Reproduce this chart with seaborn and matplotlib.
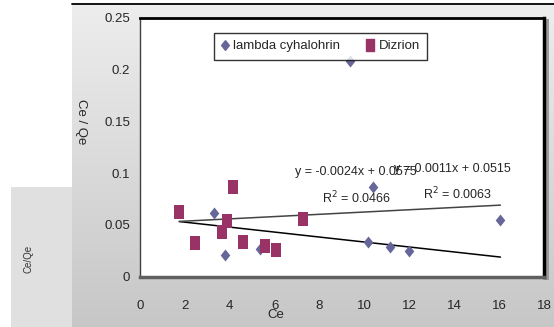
import numpy as np
import pandas as pd
import seaborn as sns
import matplotlib
matplotlib.use("Agg")
import matplotlib.pyplot as plt
from matplotlib.lines import Line2D
from matplotlib.patches import Rectangle

# Adsorption data: Ce vs Ce/Qe
lambda_ce = [3.30, 3.78, 5.35, 9.36, 10.18, 10.40, 11.16, 11.99, 16.06]
lambda_ceqe = [0.0613, 0.0210, 0.0265, 0.2086, 0.0333, 0.0865, 0.0290, 0.0252, 0.0548]
dizrion_ce = [1.75, 2.46, 3.67, 3.88, 4.16, 4.58, 5.56, 6.04, 7.25]
dizrion_ceqe = [0.0623, 0.0329, 0.0429, 0.0542, 0.0865, 0.0336, 0.0300, 0.0258, 0.0560]

# Linear trendlines (slope, intercept, R^2)
trend_down = (-0.0024, 0.0575, 0.0466)
trend_up = (0.0011, 0.0515, 0.0063)
trend_x = [1.75, 16.06]

x_ticks = [0, 2, 4, 6, 8, 10, 12, 14, 16, 18]
y_ticks = [0, 0.05, 0.1, 0.15, 0.2, 0.25]
y_ticklabels = ["0", "0.05", "0.1", "0.15", "0.2", "0.25"]

series_names = ["lambda cyhalohrin", "Dizrion"]
colors = {"lambda cyhalohrin": "#66669a", "Dizrion": "#993366"}

sns.set_style("white")
plt.rcParams["font.family"] = ["Liberation Sans Narrow", "Liberation Sans", "DejaVu Sans"]

W, H = 554, 327
fig = plt.figure(figsize=(W / 100, H / 100), dpi=100)
fig.patch.set_facecolor("white")

def fx(px):
    return px / W

def fy(py):
    return 1 - py / H

# gray gradient backdrop behind the chart
bg = fig.add_axes([fx(72), 0, 1 - fx(72), fy(5)], zorder=0)
grad = np.linspace(0.93, 0.78, 256).reshape(-1, 1)
bg.imshow(np.dstack([grad, grad, grad]), aspect="auto", extent=[0, 1, 0, 1])
bg.set_axis_off()

# lighter panel at the lower left
fig.patches.append(Rectangle((fx(11), 0), fx(72) - fx(11), fy(187), transform=fig.transFigure,
                             facecolor="#e0e0e0", edgecolor="none", zorder=1))
# thin rule along the top
fig.lines.append(Line2D([fx(72), 1], [fy(4), fy(4)], transform=fig.transFigure,
                        color="black", lw=1.3, zorder=2))
# shadow on the right side of the plot area
fig.patches.append(Rectangle((fx(545), fy(280)), fx(4), fy(19) - fy(280), transform=fig.transFigure,
                             facecolor="#9a9a9a", edgecolor="none", zorder=1))

ax = fig.add_axes([fx(140), fy(276.7), fx(544) - fx(140), fy(18) - fy(276.7)], zorder=3)
ax.set_facecolor("white")

df = pd.DataFrame({
    "Ce": lambda_ce + dizrion_ce,
    "CeQe": lambda_ceqe + dizrion_ceqe,
    "series": [series_names[0]] * len(lambda_ce) + [series_names[1]] * len(dizrion_ce),
})

diamond = [(0, 1), (0.8, 0), (0, -1), (-0.8, 0), (0, 1)]
tall_square = [(-0.7, -1), (0.7, -1), (0.7, 1), (-0.7, 1), (-0.7, -1)]

sns.scatterplot(data=df[df.series == series_names[0]], x="Ce", y="CeQe", marker=diamond,
                color=colors[series_names[0]], s=75, linewidth=0, ax=ax, zorder=4, legend=False)
sns.scatterplot(data=df[df.series == series_names[1]], x="Ce", y="CeQe", marker=tall_square,
                color=colors[series_names[1]], s=90, linewidth=0, ax=ax, zorder=4, legend=False)

tx = np.array(trend_x)
ax.plot(tx, trend_down[0] * tx + trend_down[1], color="black", lw=1.1, zorder=3)
ax.plot(tx, trend_up[0] * tx + trend_up[1], color="#444444", lw=1.1, zorder=3)

fs = 9
ax.text(6.89, 0.1013, f"y = {trend_down[0]:.4f}x + {trend_down[1]:.4f}", fontsize=fs,
        ha="left", va="center", zorder=5)
ax.text(8.12, 0.0761, f"R$^2$ = {trend_down[2]:.4f}", fontsize=fs, ha="left", va="center", zorder=5)
ax.text(16.53, 0.1042, f"y = {trend_up[0]:.4f}x + {trend_up[1]:.4f}", fontsize=fs,
        ha="right", va="center", zorder=5)
ax.text(12.62, 0.0800, f"R$^2$ = {trend_up[2]:.4f}", fontsize=fs, ha="left", va="center", zorder=5)

ax.set_xlim(0, 18)
ax.set_ylim(0, 0.25)
ax.set_xticks(x_ticks)
ax.set_xticklabels([str(v) for v in x_ticks], fontsize=fs + 0.5)
ax.set_yticks(y_ticks)
ax.set_yticklabels(y_ticklabels, fontsize=fs + 0.5)
ax.tick_params(axis="both", direction="out", length=4, width=1, color="#808080", pad=3)
ax.tick_params(axis="x", pad=13)
ax.set_xlabel("")
ax.set_ylabel("")

ax.spines["top"].set_color("black")
ax.spines["top"].set_linewidth(2)
ax.spines["right"].set_color("black")
ax.spines["right"].set_linewidth(2.5)
ax.spines["left"].set_color("#404040")
ax.spines["left"].set_linewidth(1)
ax.spines["bottom"].set_color("#606060")
ax.spines["bottom"].set_linewidth(2.5)
for s in ax.spines.values():
    s.set_visible(True)

handles = [
    Line2D([], [], marker=diamond, color=colors[series_names[0]], linestyle="none", markersize=7),
    Line2D([], [], marker=tall_square, color=colors[series_names[1]], linestyle="none", markersize=8),
]
leg = ax.legend(handles, series_names, loc="upper left",
                bbox_to_anchor=(fx(214), fy(33)), bbox_transform=fig.transFigure,
                ncol=2, fontsize=fs + 0.5, frameon=True, fancybox=False, borderpad=0.55,
                handlelength=0.6, handletextpad=0.3, columnspacing=2.0, borderaxespad=0)
leg.get_frame().set_edgecolor("black")
leg.get_frame().set_linewidth(1)
leg.get_frame().set_facecolor("white")

fig.text(fx(276), fy(315), "Ce", fontsize=fs + 0.5, ha="center", va="center", zorder=6)
fig.text(fx(81), fy(122), "Ce / Qe", fontsize=fs + 0.5, rotation=-90, ha="center", va="center", zorder=6)
fig.text(fx(28), fy(259), "Ce/Qe", fontsize=7, rotation=90, ha="center", va="center",
         color="#333333", zorder=6)

fig.savefig("out.png", dpi=100)
